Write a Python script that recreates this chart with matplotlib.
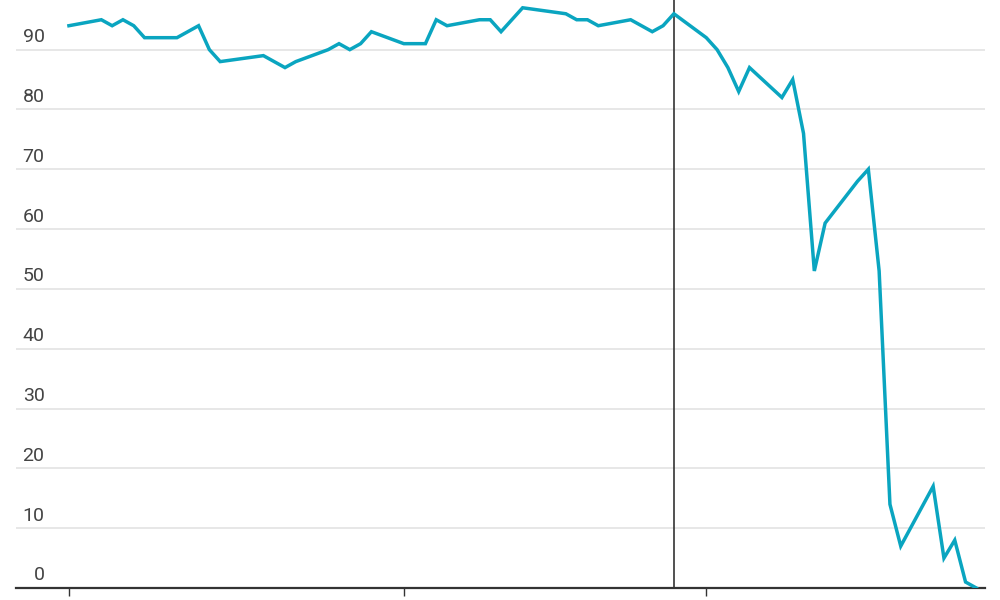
import numpy as np
import pandas as pd
import matplotlib
matplotlib.use("Agg")
import matplotlib.pyplot as plt

plt.rcParams['font.family'] = ['Roboto', 'DejaVu Sans']

# dates of the observations and their values
dates = pd.to_datetime([
    "2022-01-01", "2022-01-04", "2022-01-05", "2022-01-06", "2022-01-07",
    "2022-01-08", "2022-01-11", "2022-01-13", "2022-01-14", "2022-01-15",
    "2022-01-19", "2022-01-21", "2022-01-22", "2022-01-25", "2022-01-26",
    "2022-01-27", "2022-01-28", "2022-01-29", "2022-02-01", "2022-02-03",
    "2022-02-04", "2022-02-05", "2022-02-08", "2022-02-09", "2022-02-10",
    "2022-02-12", "2022-02-16", "2022-02-17", "2022-02-18", "2022-02-19",
    "2022-02-22", "2022-02-24", "2022-02-25", "2022-02-26", "2022-03-01",
    "2022-03-02", "2022-03-03", "2022-03-04", "2022-03-05", "2022-03-08",
    "2022-03-09", "2022-03-10", "2022-03-11", "2022-03-12", "2022-03-15",
    "2022-03-16", "2022-03-17", "2022-03-18", "2022-03-19", "2022-03-22",
    "2022-03-23", "2022-03-24", "2022-03-25", "2022-03-26",
])
values = [
    94, 95, 94, 95, 94,
    92, 92, 94, 90, 88,
    89, 87, 88, 90, 91,
    90, 91, 93, 91, 91,
    95, 94, 95, 95, 93,
    97, 96, 95, 95, 94,
    95, 93, 94, 96, 92,
    90, 87, 83, 87, 82,
    85, 76, 53, 61, 68,
    70, 53, 14, 7, 17,
    5, 8, 1, 0,
]

marker_date = pd.Timestamp("2022-02-26")
tick_dates = pd.to_datetime(["2022-01-01", "2022-02-01", "2022-03-01"])
y_ticks = [10, 20, 30, 40, 50, 60, 70, 80, 90]
y_labels = ["0", "10", "20", "30", "40", "50", "60", "70", "80", "90"]

fig = plt.figure(figsize=(10, 6), dpi=100)
ax = fig.add_axes([0.016, 0.02, 0.969, 0.98])

# light horizontal gridlines
for y in y_ticks:
    ax.axhline(y, color='#e3e3e3', linewidth=1.2, zorder=1)

ax.plot(dates, values, color='#0aa5c0', linewidth=2.5, solid_joinstyle='miter', zorder=3)
ax.axvline(marker_date, color='#333333', linewidth=1.2, zorder=2)

ax.set_xlim(pd.Timestamp("2022-01-01") - pd.Timedelta(days=4.9),
            pd.Timestamp("2022-01-01") + pd.Timedelta(days=84.8))
ax.set_ylim(0, 98.3)

ax.set_xticks(tick_dates)
ax.set_xticklabels([])
ax.tick_params(axis='x', length=6, width=1, color='#333333', direction='out')
ax.set_yticks([])

# y labels sit inside the plot, just above each gridline
for i, lab in enumerate(y_labels):
    ax.text(0.0295, i * 10 + 0.6, lab, transform=ax.get_yaxis_transform(),
            ha='right', va='bottom', fontsize=14, color='#444444')

for s in ['top', 'left', 'right']:
    ax.spines[s].set_visible(False)
ax.spines['bottom'].set_color('#333333')
ax.spines['bottom'].set_linewidth(1.6)

fig.savefig("out.png", dpi=100)
